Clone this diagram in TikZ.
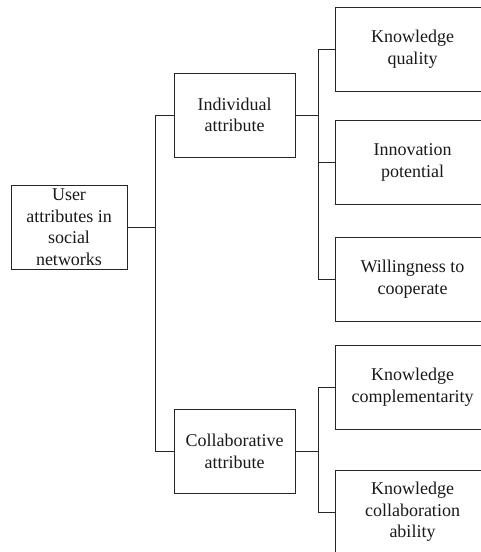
\documentclass[tikz,border=0pt]{standalone}
\usepackage{fontspec}
\setmainfont{Liberation Serif}
\tikzstyle{box} = [rectangle, minimum width=121pt, minimum height=84pt, inner sep=1pt, text centered, align=center, draw=black!85, line width=1pt, text=black!90, font=\fontsize{18}{21.5}\selectfont]
\tikzstyle{leaf} = [box, minimum width=155pt]
\tikzstyle{link} = [draw=black!85, line width=1pt]

\begin{document}
\begin{tikzpicture}[x=1pt, y=-1pt]
\useasboundingbox (0,0) rectangle (480,552);
\node (user) [box, minimum width=116pt] at (69,227) {User\\attributes in\\social\\networks};
\node (individual) [box] at (234.5,115) {Individual\\attribute};
\node (collab) [box] at (234.5,451.5) {Collaborative\\attribute};
\node (quality) [leaf] at (412.5,49) {Knowledge\\quality};
\node (innovation) [leaf, below of=quality, node distance=113.5pt] {Innovation\\potential};
\node (willing) [leaf, below of=innovation, node distance=116.5pt] {Willingness to\\cooperate};
\node (complement) [leaf] at (412.5,387) {Knowledge\\complementarity};
\node (ability) [leaf, below of=complement, node distance=125pt] {Knowledge\\collaboration\\ability};
% left tree
\draw [link] (user.east) -- ++(28,0) coordinate (hub);
\draw [link] (individual.west) -| (hub) |- (collab.west);
% individual branch
\draw [link] (individual.east) -- ++(23,0) coordinate (ihub);
\draw [link] (quality.west) -| (ihub) |- (willing.west);
\draw [link] (ihub) |- (innovation.west);
% collaborative branch
\draw [link] (collab.east) -- ++(23,0) coordinate (chub);
\draw [link] (complement.west) -| (chub) |- (ability.west);
\end{tikzpicture}
\end{document}
